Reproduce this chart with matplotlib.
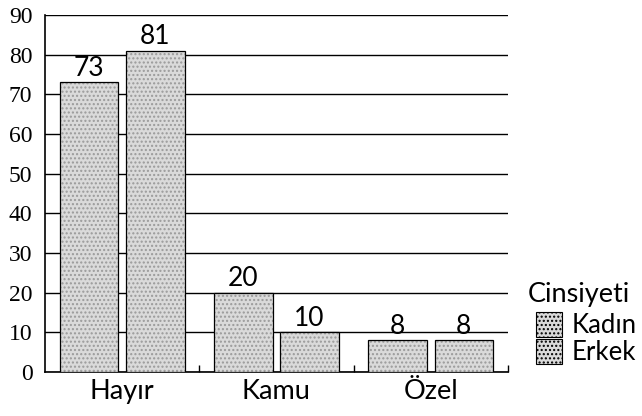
import matplotlib
matplotlib.use("Agg")
import matplotlib.pyplot as plt
import numpy as np
from matplotlib.patches import Patch

categories = ["Hayır", "Kamu", "Özel"]
series_names = ["Kadın", "Erkek"]
kadin = [73, 20, 8]
erkek = [81, 10, 8]
yticks = [0, 10, 20, 30, 40, 50, 60, 70, 80, 90]
legend_title = "Cinsiyeti"

fig = plt.figure(figsize=(6.42, 4.16), dpi=100)
ax = fig.add_axes([0.070, 0.106, 0.721, 0.858])

x = np.arange(len(categories))
w = 0.38
off = 0.215
face = "#dadada"

for vals, dx in ((kadin, -off), (erkek, off)):
    ax.bar(x + dx, vals, w, color=face, edgecolor="#9a9a9a", hatch="....", linewidth=0, zorder=3)
    bars = ax.bar(x + dx, vals, w, color="none", edgecolor="black", linewidth=0.9, zorder=4)
    ax.bar_label(bars, labels=[str(v) for v in vals], padding=1, fontsize=19, family="Lato")

ax.set_xlim(-0.5, 2.5)
ax.set_ylim(0, 90)
ax.set_yticks(yticks)
ax.set_yticklabels([str(t) for t in yticks])
ax.yaxis.grid(True, color="black", linewidth=1.0, zorder=0)
ax.set_axisbelow(True)
ax.set_xticks(x)
ax.set_xticklabels(categories)
ax.tick_params(axis="x", length=0, pad=5, labelsize=19.5, labelfontfamily="Lato")
ax.tick_params(axis="y", length=0, pad=9, labelsize=17,
               labelfontfamily="Liberation Serif")
ax.set_xticks([0.5, 1.5, 2.5], minor=True)
ax.tick_params(axis="x", which="minor", length=5, direction="in", width=1)
for s in ("top", "right"):
    ax.spines[s].set_visible(False)
ax.spines["left"].set_linewidth(1.2)
ax.spines["bottom"].set_linewidth(1.2)

fig.text(528 / 642, 1 - 302 / 416, legend_title, family="Lato", fontsize=19.5,
         ha="left", va="baseline")
handles = [Patch(facecolor=face, edgecolor="black", hatch="....", linewidth=0.8, label=n) for n in series_names]
leg = fig.legend(handles=handles, loc="upper left",
                 bbox_to_anchor=(536 / 642, 1 - 312 / 416), frameon=False,
                 prop={"family": "Lato", "size": 18.5}, handlelength=1.0, handleheight=1.1,
                 handletextpad=0.4, labelspacing=0.05, borderaxespad=0, borderpad=0)

fig.savefig("out.png", dpi=100)
